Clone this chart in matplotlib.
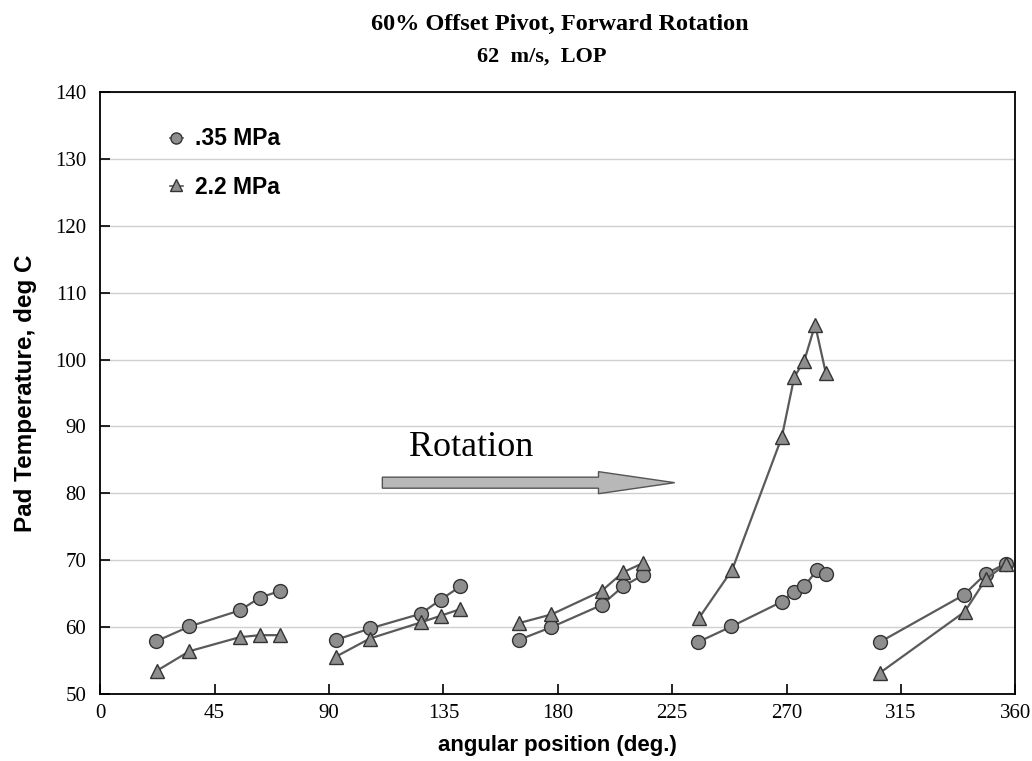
import matplotlib
matplotlib.use("Agg")
import matplotlib.pyplot as plt
from matplotlib.patches import FancyArrow

# pad temperature data, one list per pad (angular position, deg C)
lowAngle = [[22.1, 35.1, 54.9, 62.8, 70.6],
            [92.8, 106.1, 126.1, 133.9, 141.7],
            [164.7, 177.5, 197.2, 205.7, 213.6],
            [235.3, 248.3, 268.1, 272.7, 276.9, 281.9, 285.4],
            [306.8, 339.6, 348.4, 356.2]]
lowTemp = [[57.9, 60.1, 62.5, 64.4, 65.4],
           [58.1, 59.8, 62.0, 64.1, 66.1],
           [58.1, 60.0, 63.3, 66.1, 67.8],
           [57.8, 60.1, 63.8, 65.3, 66.1, 68.5, 68.0],
           [57.8, 64.8, 68.0, 69.5]]

highAngle = [[22.4, 35.1, 54.9, 62.8, 70.6],
             [92.8, 106.1, 126.1, 133.9, 141.7],
             [164.7, 177.5, 197.2, 205.7, 213.6],
             [235.6, 248.6, 268.1, 273.0, 276.9, 281.2, 285.4],
             [306.8, 340.0, 348.4, 356.2]]
highTemp = [[53.5, 56.4, 58.5, 58.8, 58.8],
            [55.6, 58.3, 60.7, 61.7, 62.7],
            [60.6, 61.9, 65.4, 68.2, 69.6],
            [61.4, 68.6, 88.4, 97.4, 99.8, 105.2, 98.0],
            [53.2, 62.3, 67.2, 69.4]]

xTicks = [0, 45, 90, 135, 180, 225, 270, 315, 360]
yTicks = [50, 60, 70, 80, 90, 100, 110, 120, 130, 140]

serif = "Liberation Serif"
sans = "Liberation Sans"

fig = plt.figure(figsize=(10.32, 7.61), dpi=100)
ax = fig.add_axes([0.097, 0.088, 0.887, 0.791])

lineCol = "#5a5a5a"
fillCol = "#8e8e8e"
edgeCol = "#333333"

for xs, ys in zip(lowAngle, lowTemp):
    ax.plot(xs, ys, color=lineCol, lw=1.6, marker="o", ms=10,
            mfc=fillCol, mec=edgeCol, mew=1.0, zorder=3)
for xs, ys in zip(highAngle, highTemp):
    ax.plot(xs, ys, color=lineCol, lw=1.6, marker="^", ms=10,
            mfc=fillCol, mec=edgeCol, mew=1.0, zorder=3)

ax.set_xlim(0, 360)
ax.set_ylim(50, 140)
ax.set_xticks(xTicks)
ax.set_yticks(yTicks)
ax.yaxis.grid(True, color="#cfcfcf", lw=1.0)
ax.set_axisbelow(True)
ax.tick_params(direction="in", length=7, width=1.2, labelsize=15)
ax.tick_params(axis="x", pad=7)
ax.tick_params(axis="y", pad=10)
for lab in ax.get_xticklabels() + ax.get_yticklabels():
    lab.set_fontfamily(serif)
for s in ax.spines.values():
    s.set_linewidth(1.3)

ax.set_xlabel("angular position (deg.)", fontsize=16, fontweight="bold",
              fontfamily=sans, labelpad=9)
ax.set_ylabel("Pad Temperature, deg C", fontsize=17.5, fontweight="bold",
              fontfamily=sans, labelpad=13)

fig.text(0.542, 0.968, "60% Offset Pivot, Forward Rotation", ha="center",
         va="center", fontsize=17.5, fontweight="bold", fontfamily=serif)
fig.text(0.525, 0.926, "62  m/s,  LOP", ha="center", va="center",
         fontsize=16, fontweight="bold", fontfamily=serif)

# rotation arrow
ax.add_patch(FancyArrow(111, 81.6, 115, 0, width=1.65, head_width=3.3,
                        head_length=30, length_includes_head=True,
                        fc="#b8b8b8", ec="#555555", lw=1.0, zorder=2))
ax.text(146, 86.8, "Rotation", fontsize=26, fontfamily=serif,
        ha="center", va="center")

# legend
ax.plot([27.5, 32.5], [133.2, 133.2], color=lineCol, lw=1.2)
ax.plot([30], [133.2], marker="o", ms=8, mfc=fillCol, mec=edgeCol, ls="")
ax.text(37.2, 133.0, ".35 MPa", fontsize=16.5, fontweight="bold",
        fontfamily=sans, va="center")
ax.plot([27.5, 32.5], [125.9, 125.9], color=lineCol, lw=1.2)
ax.plot([30], [126.1], marker="^", ms=8, mfc=fillCol, mec=edgeCol, ls="")
ax.text(37.2, 125.8, "2.2 MPa", fontsize=16.5, fontweight="bold",
        fontfamily=sans, va="center")

fig.savefig("out.png", dpi=100, facecolor="white")
